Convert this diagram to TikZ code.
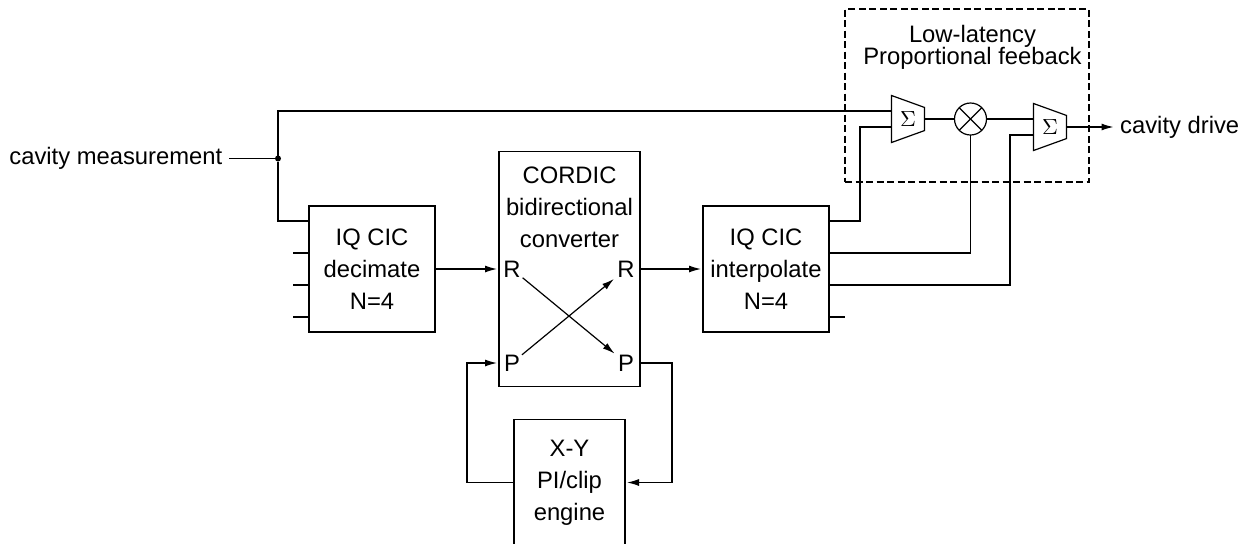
\documentclass[tikz,border=0pt]{standalone}
\usepackage{fontspec}
\setmainfont{Liberation Sans}
\usetikzlibrary{arrows.meta, positioning, shapes.geometric}
\tikzset{
    box/.style={
        draw,
        minimum width=63pt,
        minimum height=63pt,
        inner sep=0pt,
        align=center
    },
    sumbox/.style={
        draw,
        trapezium,
        shape border rotate=270,
        trapezium stretches=true,
        trapezium left angle=64,
        trapezium right angle=64,
        minimum width=23.5pt,
        minimum height=16.5pt,
        inner sep=0pt,
        font=\fontsize{11}{13}\selectfont
    },
    mixer/.style={draw, circle, minimum size=16pt, inner sep=0pt},
    tapdot/.style={fill, circle, minimum size=3pt, inner sep=0pt},
    port/.style={inner sep=1pt},
    line/.style={-{Latex[length=6pt,width=3.5pt]}, shorten >=1pt},
    every node/.style={font=\fontsize{11.9}{16}\selectfont, outer sep=0pt},
    every path/.style={line width=0.6pt}
}
\begin{document}
\begin{tikzpicture}
\useasboundingbox (0,0) rectangle (623.5pt,-271.5pt);

\node[box] (dec) at (186pt,-134.5pt) {IQ CIC\\decimate\\N=4};
\node[box, minimum width=70.5pt, minimum height=117.5pt, right=32pt of dec] (cordic) {};
\node[box, right=31.5pt of cordic] (interp) {IQ CIC\\interpolate\\N=4};
\node[box, minimum width=55.5pt, below=16.5pt of cordic] (engine) {X-Y\\PI/clip\\engine};

% cordic text and ports
\node[align=center] (cordictext) at ([yshift=30.75pt]cordic.center) {CORDIC\\bidirectional\\converter};
\node[port] (rin) at ([xshift=6.5pt]cordic.west) {R};
\node[port] (rout) at ([xshift=-7pt]cordic.east) {R};
\node[port] (pin) at ([xshift=6.5pt,yshift=-47pt]cordic.west) {P};
\node[port] (pout) at ([xshift=-7pt,yshift=-47pt]cordic.east) {P};

% feedback block
\node[draw, dash pattern=on 3.5pt off 1.75pt, minimum width=122pt, minimum height=86.5pt, inner sep=0pt,
      anchor=south west] (fb) at ([xshift=8pt,yshift=12pt]interp.north east) {};
\node[align=center, font=\fontsize{11.9}{11.25}\selectfont, below=4.75pt of fb.north, xshift=2.75pt] (fblabel) {Low-latency\\Proportional feeback};
\node[sumbox] (sum1) at ([xshift=31.5pt,yshift=31.5pt]fb.south west) {$\Sigma$};
\node[mixer, right=15pt of sum1] (mult) {};
\node[sumbox, right=23.5pt of mult, yshift=-4pt] (sum2) {$\Sigma$};
\draw (mult.north west) -- (mult.south east);
\draw (mult.north east) -- (mult.south west);

% input side
\node[tapdot] (tap) at ([xshift=-15.5pt,yshift=55.25pt]dec.west) {};
\node[left=23pt of tap] (meas) {cavity measurement};
\node[right=23.5pt of sum2] (drive) {cavity drive};

\draw (meas) -- (tap);
\draw (tap) |- ([yshift=4pt]sum1.west);
\draw (tap) |- ([yshift=24pt]dec.west);
\foreach \ys in {8,-8,-24}
    \draw ([yshift=\ys pt]dec.west) -- ++(-8pt,0);

\draw[line] (dec) -- (cordic);
\draw[line] (cordic) -- (interp);
\draw[line] (rin) -- (pout);
\draw[line] (pin) -- (rout);

% interpolator outputs
\draw ([yshift=24pt]interp.east) -- ++(15.5pt,0) |- ([yshift=-4pt]sum1.west);
\draw ([yshift=8pt]interp.east) -| (mult.south);
\draw ([yshift=-8pt]interp.east) -- ++(90.5pt,0) |- ([yshift=-4pt]sum2.west);
\draw ([yshift=-24pt]interp.east) -- ++(8pt,0);

\draw (sum1.east) -- (mult.west);
\draw (mult.east) -- ([yshift=4pt]sum2.west);
\draw[line, shorten >=0pt] (sum2.east) -- (drive);

% engine loop
\draw[line] ([yshift=-47pt]cordic.east) -- ++(16pt,0) |- (engine.east);
\draw[line] (engine.west) -- ++(-23.5pt,0) |- ([yshift=-47pt]cordic.west);
\end{tikzpicture}
\end{document}
